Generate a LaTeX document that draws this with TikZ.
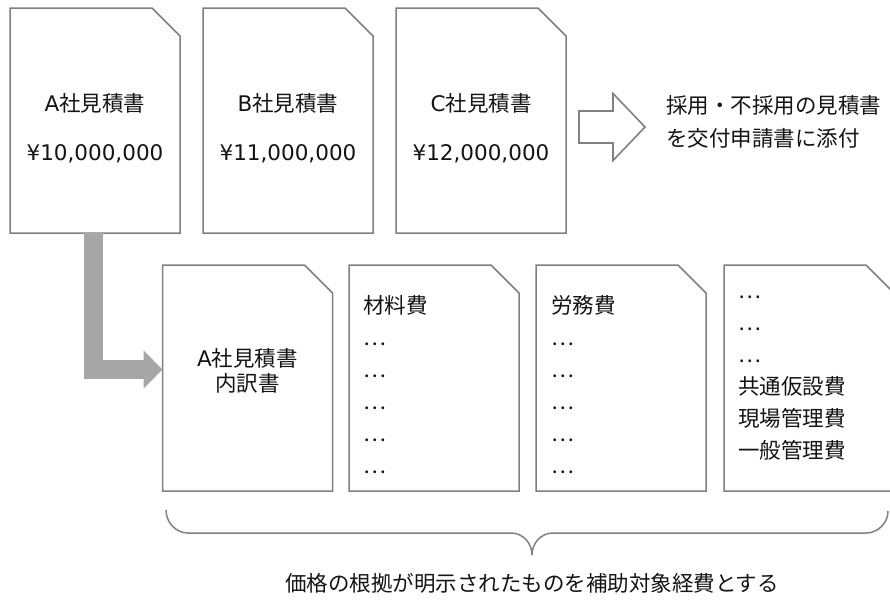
\documentclass[tikz,border=0pt]{standalone}
\usepackage{fontspec}
\setmainfont{Noto Sans CJK JP}
\newfontfamily\latinfont{DejaVu Sans}
\usetikzlibrary{arrows.meta}
\definecolor{linegray}{RGB}{128,128,128}
\definecolor{arrgray}{RGB}{166,166,166}
\definecolor{txt}{RGB}{20,20,20}
\newcommand\docoutline[1]{\draw[docline] (#1.north west) -- ([xshift=-28pt]#1.north east) -- ([yshift=-28pt]#1.north east) -- (#1.south east) -- (#1.south west) -- cycle;}
\newcommand\lat[1]{{\latinfont #1}}
\tikzset{
  docframe/.style={minimum width=170pt, inner sep=0pt, outer sep=0pt},
  docline/.style={draw=linegray, line width=1.5pt, fill=white, line join=miter},
  lbl/.style={inner sep=0pt, text=txt, font=\fontsize{21.5}{32}\selectfont},
  grayarrow/.style={draw=arrgray, line width=19.5pt, line join=miter, -{Triangle[width=37pt,length=19pt,fill=arrgray]}},
  hollow/.style={draw=linegray, line width=1.6pt, line join=miter, fill=white},
  bracestyle/.style={draw=linegray, line width=1.5pt}
}
\begin{document}
\begin{tikzpicture}[x=1pt,y=-1pt]
\clip (0,0) rectangle (890,603);
\fill[white] (0,0) rectangle (890,603);
% top documents
\node[docframe, minimum height=225pt] (A) at (95,120.5) {};
\node[docframe, minimum height=225pt] (B) at (288,120.5) {};
\node[docframe, minimum height=225pt] (C) at (481,120.5) {};
\docoutline{A}\docoutline{B}\docoutline{C}
\node[lbl] (At) at (95,103) {\lat{A}社見積書};
\node[lbl] (Ap) at (95,154) {\lat{¥10,000,000}};
\node[lbl] (Bt) at (288,103) {\lat{B}社見積書};
\node[lbl] (Bp) at (288,154) {\lat{¥11,000,000}};
\node[lbl] (Ct) at (481,103) {\lat{C}社見積書};
\node[lbl] (Cp) at (481,154) {\lat{¥12,000,000}};
% hollow arrow and note
\draw[hollow] (579,111) -- (613,111) -- (613,93.5) -- (645,127) -- (613,160.5) -- (613,143) -- (579,143) -- cycle;
\node[lbl, anchor=west, align=left, font=\fontsize{21.5}{33}\selectfont] (note) at (666,121.5) {採用・不採用の見積書\\を交付申請書に添付};
% bottom documents
\node[docframe, minimum height=226pt] (I) at (247.5,378) {};
\node[docframe, minimum height=226pt] (D2) at (434,378) {};
\node[docframe, minimum height=226pt] (D3) at (621,378) {};
\node[docframe, minimum height=226pt] (D4) at (809,378) {};
\docoutline{I}\docoutline{D2}\docoutline{D3}\docoutline{D4}
\node[lbl, align=center, font=\fontsize{21.5}{25}\selectfont] (It) at (247.5,370.5) {\lat{A}社見積書\\内訳書};
\node[lbl, anchor=north west, align=left] (D2t) at (363,295.5) {材料費\\…\\…\\…\\…\\…};
\node[lbl, anchor=north west, align=left] (D3t) at (551,295.5) {労務費\\…\\…\\…\\…\\…};
\node[lbl, anchor=north west, align=left] (D4t) at (738,295.5) {…\\…\\…\\共通仮設費\\現場管理費\\一般管理費};
% gray connector
\draw[grayarrow] ([xshift=83.5pt]A.south west) |- ([yshift=8.5pt]I.west);
% brace
\draw[bracestyle] (166,510) .. controls (166,522.6) and (176,533) .. (188,533) -- (511,533) .. controls (523,533) and (532,543) .. (532,555) .. controls (532,543) and (541,533) .. (553,533) -- (866,533) .. controls (878,533) and (888,523) .. (888,511);
\node[lbl] (foot) at (532,583) {価格の根拠が明示されたものを補助対象経費とする};
\end{tikzpicture}
\end{document}
